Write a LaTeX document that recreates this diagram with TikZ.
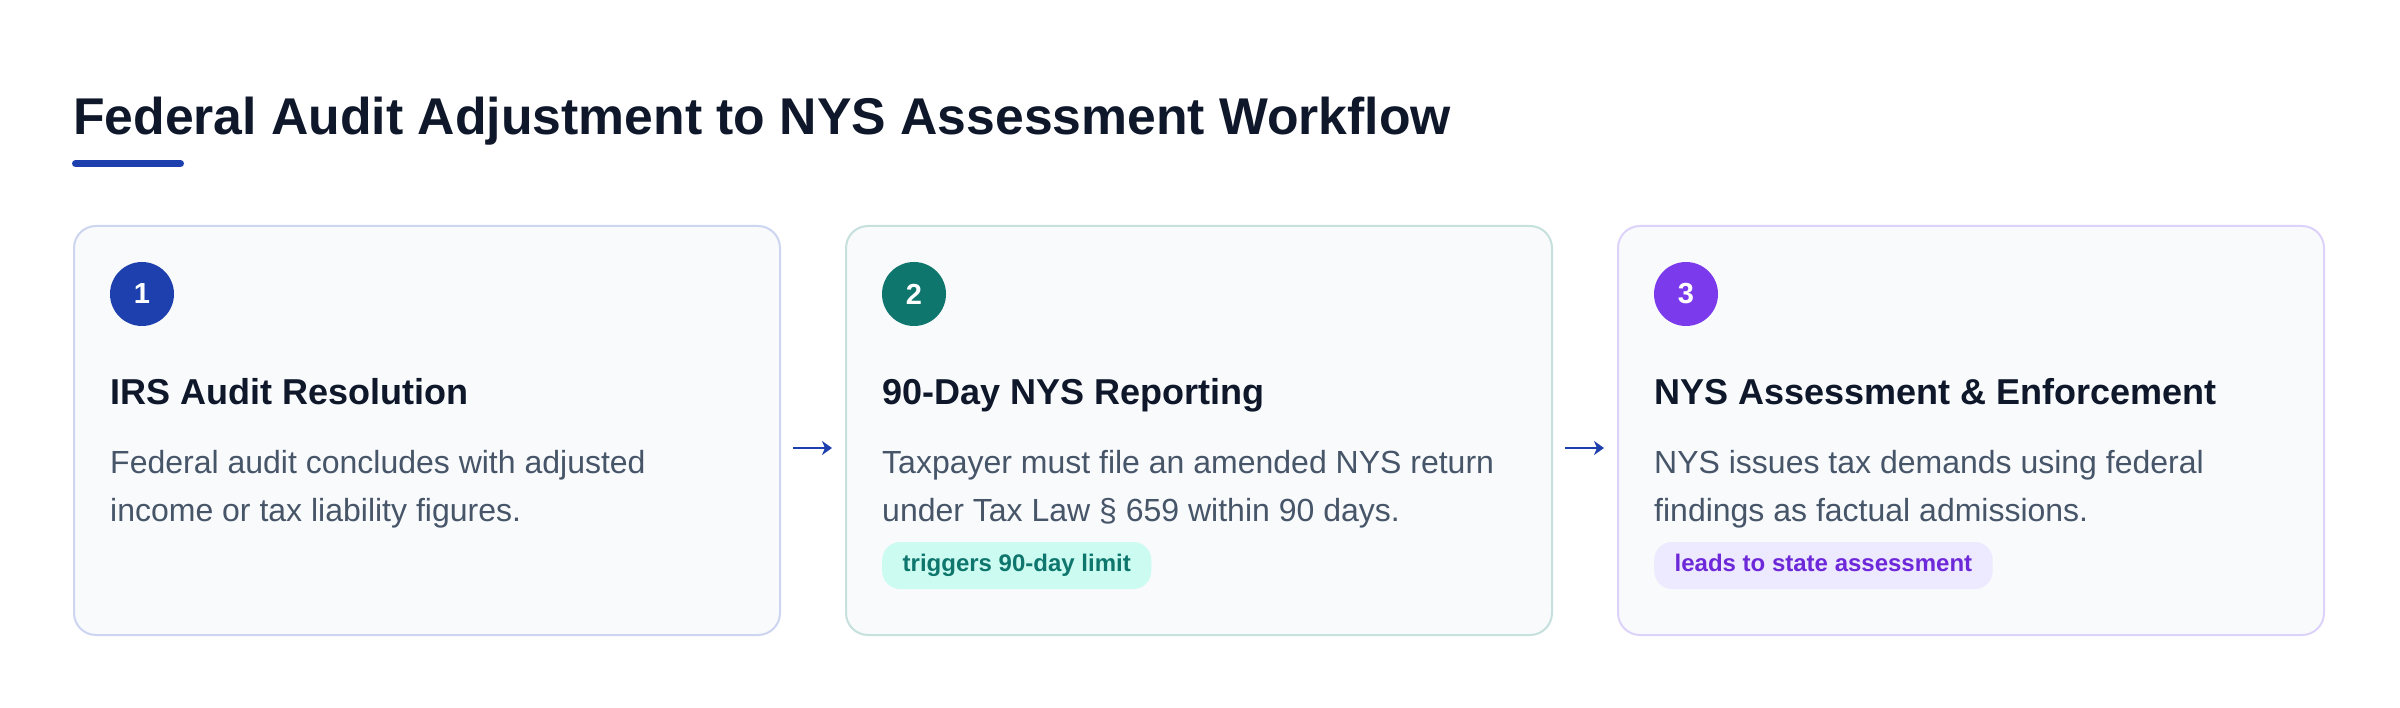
\documentclass[tikz,border=0pt]{standalone}
\usepackage{fontspec}
\setmainfont{Liberation Sans}
\usetikzlibrary{arrows.meta}
\definecolor{titlec}{HTML}{0F172A}
\definecolor{bodyc}{HTML}{475569}
\definecolor{cardfill}{HTML}{F8FAFC}
\definecolor{blue1}{HTML}{1E40AF}
\definecolor{teal1}{HTML}{0F766E}
\definecolor{violet1}{HTML}{7C3AED}
\definecolor{border1}{HTML}{CDD5F1}
\definecolor{border2}{HTML}{C5E0DD}
\definecolor{border3}{HTML}{DDD3FA}
\definecolor{tag2fill}{HTML}{CCFBF1}
\definecolor{tag2text}{HTML}{0F766E}
\definecolor{tag3fill}{HTML}{EDE9FE}
\definecolor{tag3text}{HTML}{6D28D9}
\tikzset{
  card/.style={draw, line width=2pt, fill=cardfill, rounded corners=22pt,
    minimum width=706pt, minimum height=409pt, anchor=north west, inner sep=0pt},
  badge/.style={circle, minimum size=64pt, inner sep=0pt, text=white,
    font=\fontsize{29}{34}\selectfont\bfseries},
  heading/.style={anchor=base west, inner sep=0pt, text=titlec,
    font=\fontsize{36}{43}\selectfont\bfseries},
  bodyline/.style={anchor=base west, inner sep=0pt, text=bodyc,
    font=\fontsize{32}{48}\selectfont},
  tag/.style={anchor=west, rounded corners=18pt, inner xsep=20.5pt, inner ysep=0pt,
    minimum height=47pt, text height=17.5pt, text depth=5pt,
    font=\fontsize{24}{29}\selectfont\bfseries},
  conn/.style={draw=blue1, line width=2pt, -{Stealth[length=10pt,width=14pt,inset=3pt]}},
}
\begin{document}
\begin{tikzpicture}[x=1pt,y=-1pt]
\useasboundingbox[fill=white] (0,0) rectangle (2400,708);
% title
\node[anchor=base west, inner sep=0pt, text=titlec,
  font=\fontsize{51.7}{62}\selectfont\bfseries] (title) at (73,134.5)
  {Federal Audit Adjustment to NYS Assessment Workflow};
\draw[blue1, line width=7pt, line cap=round] (75.5,163.5) -- (180.5,163.5);
% cards
\node[card, draw=border1] (c1) at (73,225) {};
\node[card, draw=border2] (c2) at (845,225) {};
\node[card, draw=border3] (c3) at (1617,225) {};
% badges
\node[badge, fill=blue1] (n1) at (142,294) {1};
\node[badge, fill=teal1] (n2) at (914,294) {2};
\node[badge, fill=violet1] (n3) at (1686,294) {3};
% headings
\node[heading] (h1) at (110,404) {IRS Audit Resolution};
\node[heading] (h2) at (882,404) {90-Day NYS Reporting};
\node[heading] (h3) at (1654,404) {NYS Assessment \& Enforcement};
% bodies
\node[bodyline] (b1a) at (110,473) {Federal audit concludes with adjusted};
\node[bodyline] (b1b) at (110,521) {income or tax liability figures.};
\node[bodyline] (b2a) at (882,473) {Taxpayer must file an amended NYS return};
\node[bodyline] (b2b) at (882,521) {under Tax Law § 659 within 90 days.};
\node[bodyline] (b3a) at (1654,473) {NYS issues tax demands using federal};
\node[bodyline] (b3b) at (1654,521) {findings as factual admissions.};
% tags
\node[tag, fill=tag2fill, text=tag2text] (t2) at (882,565.5) {triggers 90-day limit};
\node[tag, fill=tag3fill, text=tag3text] (t3) at (1654,565.5) {leads to state assessment};
% connectors
\draw[conn] ([xshift=12pt,yshift=-17.5pt]c1.east) -- ([xshift=-13pt,yshift=-17.5pt]c2.west);
\draw[conn] ([xshift=12pt,yshift=-17.5pt]c2.east) -- ([xshift=-13pt,yshift=-17.5pt]c3.west);
\end{tikzpicture}
\end{document}
